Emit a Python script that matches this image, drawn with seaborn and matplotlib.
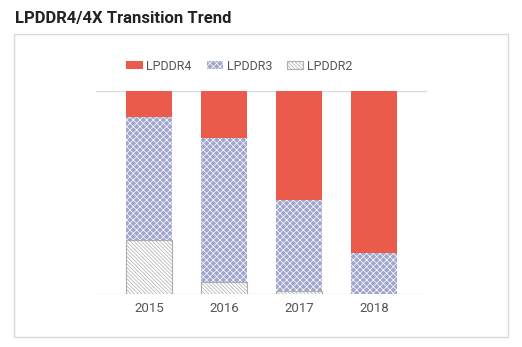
import matplotlib
matplotlib.use("Agg")
import matplotlib.pyplot as plt
import seaborn as sns
import pandas as pd
import numpy as np
from matplotlib.patches import Rectangle, Patch

years = ["2015", "2016", "2017", "2018"]
lpddr4 = [12.8, 23.0, 53.5, 79.7]
lpddr3 = [60.6, 71.0, 45.0, 20.3]
lpddr2 = [26.6, 6.0, 1.5, 0.0]

sns.set_theme(style="white")
plt.rcParams['font.family'] = ['Roboto', 'DejaVu Sans']
plt.rcParams['hatch.linewidth'] = 0.5

c4 = "#EB5B4B"
c3 = "#A0A6CD"
grid_c = "#d9d9d9"
h3 = "xxxxx"
h2 = "\\" * 9

df = pd.DataFrame({"year": years, "l4": lpddr4, "l3": lpddr3, "l2": lpddr2})
df["top"] = df["l4"] + df["l3"] + df["l2"]
df["mid"] = df["l3"] + df["l2"]

fig = plt.figure(figsize=(5.22, 3.47), dpi=100)
ax = fig.add_axes([96/522, 1-294/347, 331/522, 203/347])

sns.barplot(data=df, x="year", y="top", color=c4, saturation=1, width=0.61, ax=ax, linewidth=0)
n0 = len(ax.patches)
sns.barplot(data=df, x="year", y="mid", color=c3, saturation=1, width=0.61, ax=ax, linewidth=0)
n1 = len(ax.patches)
sns.barplot(data=df, x="year", y="l2", color="white", saturation=1, width=0.61, ax=ax, linewidth=0)
n2 = len(ax.patches)

for p in ax.patches[n0:n1]:
    p.set_hatch(h3)
    p.set_edgecolor("white")
    p.set_linewidth(0)
for p, v in zip(ax.patches[n1:n2], lpddr2):
    if v > 0:
        p.set_hatch(h2)
        p.set_edgecolor("#adadad")
        p.set_linewidth(0.8)
    else:
        p.set_visible(False)

ax.set_xlim(-0.707, 3.707)
ax.set_ylim(0, 100)
ax.set_yticks([0, 100])
ax.set_yticklabels([])
ax.tick_params(axis="y", length=0)
ax.tick_params(axis="x", length=0, labelsize=9.5, labelcolor="#555555", pad=6)
ax.yaxis.grid(True, color=grid_c, linewidth=1)
ax.set_axisbelow(True)
for s in ax.spines.values():
    s.set_visible(False)
ax.set_xlabel("")
ax.set_ylabel("")

# outer box
fig.patches.append(Rectangle((14/522, 1-337/347), 494/522, 303/347, transform=fig.transFigure,
                             fill=False, edgecolor=grid_c, linewidth=1))

fig.text(15/522, 1-18/347, "LPDDR4/4X Transition Trend", fontsize=12, fontweight="bold",
         color="#222222", va="center", ha="left")

handles = [Patch(facecolor=c4, edgecolor=c4, linewidth=0),
           Patch(facecolor=c3, edgecolor="white", hatch=h3, linewidth=0),
           Patch(facecolor="white", edgecolor="#adadad", hatch=h2, linewidth=0.8)]
fig.legend(handles, ["LPDDR4", "LPDDR3", "LPDDR2"], loc="center left",
           bbox_to_anchor=(120/522, 1-66/347), ncol=3, frameon=False,
           fontsize=9, labelcolor="#555555", handlelength=1.3, handleheight=0.65,
           handletextpad=0.3, columnspacing=1.2, borderpad=0)

fig.savefig("out.png", dpi=100)
